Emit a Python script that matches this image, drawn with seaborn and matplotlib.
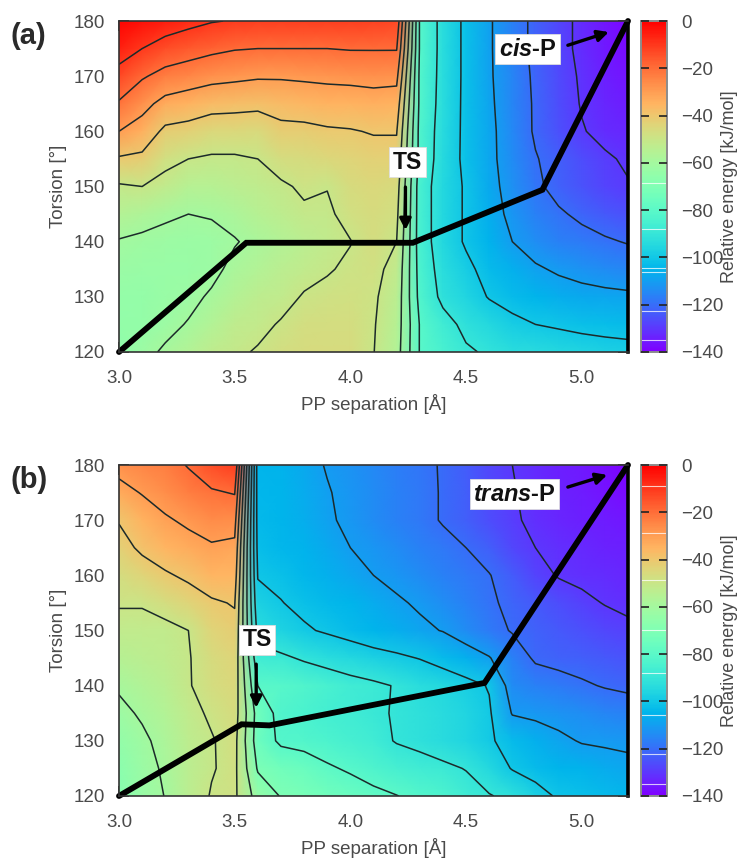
import matplotlib
matplotlib.use("Agg")
import matplotlib.pyplot as plt
import numpy as np
import pandas as pd
import seaborn as sns

# PP separation (columns) and torsion (rows) of the scans
separation = [3.0, 3.1, 3.2, 3.3, 3.4, 3.5, 3.6, 3.7, 3.8, 3.9, 4.0, 4.1,
              4.2, 4.3, 4.4, 4.5, 4.6, 4.7, 4.8, 4.9, 5.0, 5.1, 5.2]
torsion = [180, 175, 170, 165, 160, 155, 150, 145, 140, 135, 130, 125, 120]

# panel (a) energies, one row per torsion
energy_a = [
    [-1, -3, -5, -7.5, -9.5, -10.5, -11, -11, -11, -11, -11, -11.5, -13, -81, -93, -102, -109, -116, -122, -127, -132, -136, -139],
    [-6, -10, -14, -16, -18, -19.5, -20, -20, -20, -20, -19.5, -19.5, -19.5, -81, -93, -102, -109, -116, -122, -127, -132, -135.5, -138],
    [-13, -19, -23, -25, -27, -28, -29, -29, -28.5, -28, -27.5, -27, -27.5, -82, -93, -102, -109, -115, -121.5, -126.5, -131, -134, -136.5],
    [-21, -27, -33, -35, -37, -37.5, -38, -37, -36, -35, -35, -34, -34.5, -82, -93.5, -102, -108.5, -115, -121, -126, -130.5, -133, -135],
    [-30, -34, -42, -43, -45, -45, -45.5, -42, -42, -41, -40.5, -39.5, -39.5, -83, -94, -102, -108, -114.5, -121, -125.5, -129.5, -132, -133],
    [-41, -42, -48, -50, -51, -51, -50, -47, -46, -45, -44, -43, -43, -83, -94.5, -102, -108, -114, -119.5, -123, -126, -129, -131],
    [-51, -50, -52.5, -55, -55, -54, -53, -51, -49, -49.8, -46, -45, -46, -85, -95, -101, -107.5, -113, -118.5, -122.5, -125, -127.5, -129.5],
    [-55.5, -57, -59, -60, -59.5, -57.5, -55, -53.5, -51, -51, -48, -46, -48, -85, -95, -101, -106.5, -112, -116, -119, -121.5, -124, -125.5],
    [-60.5, -61.5, -62, -62.5, -62, -60.5, -58, -56, -54, -52.5, -50.2, -47, -50, -85, -95, -101, -105.5, -110, -113.5, -116, -117.5, -119, -120.5],
    [-62.5, -63, -63, -63, -62, -58, -56, -54, -52, -50.5, -49, -48, -52.5, -84, -93.5, -98, -103, -106, -109, -111, -112.5, -114, -115],
    [-64, -64, -63, -62, -59, -55.5, -53.5, -52, -49.5, -48.5, -48, -49, -54, -83, -92, -96, -100.5, -103, -105, -106.5, -107.5, -108, -108.5],
    [-65, -64, -62, -59.5, -56, -53, -51.5, -49.5, -47.5, -47, -46.5, -49.5, -55, -80.5, -87, -92, -95, -98, -100, -101, -102, -102.5, -103],
    [-66, -62, -59, -56, -53, -51, -49.5, -47.5, -46, -46, -46, -49.8, -56, -80.5, -85, -89, -91, -93, -94, -95, -96, -97, -97.5],
]

# panel (b) energies, one row per torsion
energy_b = [
    [-27, -25, -23, -19.5, -14, -11, -104.5, -105.5, -107.5, -110.5, -112.5, -114.5, -116.5, -118.5, -120.5, -123.5, -127, -130, -132, -134, -135.5, -137.5, -139.5],
    [-33, -29.5, -26.5, -23.5, -21, -19.5, -104, -105, -107, -109.5, -112, -114, -116, -118, -120.5, -123, -126.5, -129.5, -132, -133.5, -135, -136.5, -138],
    [-39.5, -35, -31, -28.5, -26, -26.5, -103.5, -104.5, -106.5, -109, -111.5, -114, -116, -118, -120.5, -123, -126, -129, -131.5, -133, -134, -135, -136],
    [-43, -38.5, -35.5, -33, -31, -32, -102.5, -104, -105.5, -107.5, -110, -112, -114, -116, -118, -120, -123, -127, -130, -131.5, -132.5, -133.5, -134.5],
    [-46.5, -44, -41, -38.5, -35.5, -35.5, -100.5, -102, -104, -106, -108, -110, -112, -114, -116, -118, -119.7, -123.5, -127.5, -130.5, -131.5, -132.3, -133],
    [-49.5, -49.5, -47, -44, -41, -39.5, -97, -99.7, -102, -103.5, -105, -107, -109, -111, -113.5, -116, -119, -121.5, -124, -126, -128.5, -130.3, -131.5],
    [-52, -52, -52, -50, -44, -42, -93, -96.5, -99, -101, -103, -105, -106.5, -108.5, -110.3, -114, -117.5, -120.5, -122.5, -124, -125.5, -127, -128.5],
    [-55, -54, -53, -50.5, -46, -44, -87, -88.5, -91, -93, -95, -97, -98.5, -100.3, -103, -106, -109.5, -116, -121, -122, -123, -124, -125],
    [-59, -56.5, -54.5, -50.5, -47, -45, -80, -81, -83, -85, -87, -88.5, -90.5, -93, -95, -97.5, -100.5, -114, -116, -117.5, -119, -120.5, -121.5],
    [-62, -59, -56, -52, -49, -46, -74, -83, -84.5, -86, -87.5, -89, -90.5, -92, -94, -96, -99, -110.5, -111.5, -112.5, -113.5, -115, -116],
    [-65, -61.5, -57.5, -53.5, -50.5, -47.5, -75, -81.5, -82.5, -84, -85.5, -87.5, -90.5, -92, -94, -96, -99, -103, -106, -108.5, -110.5, -111, -111.5],
    [-67, -62.5, -59, -54, -50.5, -48, -71, -74, -76, -79, -81, -83.5, -85.5, -87, -88.5, -90.3, -95, -100.5, -103, -104.5, -105.5, -107, -108],
    [-68, -63, -59.8, -54, -49.5, -48.5, -64, -70.5, -72, -74, -76, -78, -79.8, -82, -84, -87, -89.5, -92, -97, -101, -102, -103, -104],
]

# minimum energy paths
path_a_x = [3.0, 3.55, 4.27, 4.83, 5.2]
path_a_y = [120, 139.8, 139.8, 149.4, 180]
path_b_x = [3.0, 3.53, 3.65, 4.58, 5.2]
path_b_y = [120, 133, 132.8, 140.5, 180]

# pale streaks visible on the two colour bars
streaks_a = [-68.7, -88, -104.3, -106, -122.7, -135]
streaks_b = [-8.7, -28.8, -48.8, -69.7, -87.9, -105.9, -122.4, -135]

x_ticks = [3.0, 3.5, 4.0, 4.5, 5.0]
y_ticks = [120, 130, 140, 150, 160, 170, 180]
cbar_ticks = [-140, -120, -100, -80, -60, -40, -20, 0]
levels = list(range(-130, 0, 10))

sns.set_theme(style="ticks")
plt.rcParams["font.family"] = ["Liberation Sans", "DejaVu Sans"]
plt.rcParams["mathtext.fontset"] = "custom"
plt.rcParams["mathtext.bf"] = "Liberation Sans:bold"
plt.rcParams["mathtext.bfit"] = "Liberation Sans:italic:bold"

W, H = 741, 859
GREY = "#4a4a4a"
fig = plt.figure(figsize=(W / 100, H / 100), dpi=100)


def to_cell_x(x):
    return (np.asarray(x) - separation[0]) / 0.1 + 0.5


def to_cell_y(t):
    return (torsion[0] - np.asarray(t)) / 5 + 0.5


def add_axes(left, right, top, bottom):
    return fig.add_axes([left / W, 1 - bottom / H, (right - left) / W, (bottom - top) / H])


def draw_panel(top, energy, path_x, path_y, streaks, letter):
    bottom = top + 331
    ax = add_axes(119, 628, top, bottom)
    cax = add_axes(641, 667, top, bottom)
    df = pd.DataFrame(energy, index=torsion, columns=separation)

    sns.heatmap(df, ax=ax, cbar_ax=cax, cmap="rainbow", vmin=-140, vmax=0,
                xticklabels=False, yticklabels=False,
                cbar_kws={"ticks": cbar_ticks})

    # smooth the cells, same values and same colour scale
    cx = to_cell_x(df.columns.values)
    cy = to_cell_y(df.index.values)
    ax.pcolormesh(cx, cy, df.values, shading="gouraud", cmap="rainbow", vmin=-140, vmax=0)
    ax.contour(cx, cy, df.values, levels=levels, colors="#1c2a2a", linewidths=1.1,
               linestyles="solid")
    ax.plot(to_cell_x(path_x), to_cell_y(path_y), color="black", lw=4.2,
            solid_joinstyle="miter", clip_on=False, zorder=5)

    ax.set_xlim(cx[0], cx[-1])
    ax.set_ylim(cy[-1], cy[0])
    ax.set_xticks(to_cell_x(x_ticks), [f"{v:.1f}" for v in x_ticks])
    ax.set_yticks(to_cell_y(y_ticks), [str(v) for v in y_ticks])
    ax.tick_params(axis="x", direction="in", length=7, width=1.1, top=True, bottom=True,
                   labelsize=13.5, labelcolor=GREY, color="#222222", pad=13)
    ax.tick_params(axis="y", direction="in", length=7, width=1.1, left=True, right=True,
                   labelsize=13.5, labelcolor=GREY, color="#222222", pad=10, labelrotation=0)
    ax.set_xlabel("PP separation [Å]", fontsize=13.5, color=GREY, labelpad=5)
    ax.set_ylabel("Torsion [°]", fontsize=13.5, color=GREY, labelpad=5)
    for name, spine in ax.spines.items():
        spine.set_visible(True)
        spine.set_linewidth(1.2)
        spine.set_color("#333333")
        spine.set_zorder(6)
    ax.spines["right"].set_linewidth(2.6)
    ax.spines["right"].set_color("black")

    for v in streaks:
        cax.axhline(v, color="white", lw=0.8, alpha=0.75)
    cax.set_axisbelow(False)
    cax.tick_params(axis="y", direction="in", length=6, width=1.2, left=True, right=True,
                    labelsize=13.5, labelcolor=GREY, color="#222222", pad=10)
    for spine in cax.spines.values():
        spine.set_visible(True)
        spine.set_linewidth(1.2)
        spine.set_color("#8c8c8c")
    cax.set_ylabel("")
    fig.text(730 / W, 1 - (top + 166) / H, "Relative energy [kJ/mol]", fontsize=13,
             color=GREY, rotation=90, ha="center", va="center")

    fig.text(10 / W, 1 - (top + 15) / H, letter, fontsize=21, fontweight="bold",
             color="#2a2a2a", va="center", ha="left")
    return ax


def label(ax, text, x, t, size=16.5):
    ax.text(to_cell_x(x), to_cell_y(t), text, fontsize=size, fontweight="bold", color="#111111",
            ha="center", va="center", zorder=7,
            bbox=dict(facecolor="white", edgecolor="#dddddd", linewidth=0.6, pad=2.5))


def arrow(ax, x0, t0, x1, t1):
    ax.annotate("", xy=(to_cell_x(x1), to_cell_y(t1)), xytext=(to_cell_x(x0), to_cell_y(t0)),
                arrowprops=dict(arrowstyle="-|>,head_length=0.55,head_width=0.28", color="black",
                                lw=2.4, shrinkA=0, shrinkB=0), zorder=7)


ax_a = draw_panel(21, energy_a, path_a_x, path_a_y, streaks_a, "(a)")
label(ax_a, "TS", 4.247, 154.4)
arrow(ax_a, 4.238, 149.9, 4.238, 142.1)
label(ax_a, r"$\mathbfit{cis}$-P", 4.766, 174.9, 17)
arrow(ax_a, 4.94, 175.6, 5.117, 178)

ax_b = draw_panel(465, energy_b, path_b_x, path_b_y, streaks_b, "(b)")
label(ax_b, "TS", 3.597, 148.3)
arrow(ax_b, 3.593, 143.9, 3.593, 136)
label(ax_b, r"$\mathbfit{trans}$-P", 4.71, 174.7, 17)
arrow(ax_b, 4.94, 176, 5.11, 178.2)

fig.savefig("out.png", dpi=100)
